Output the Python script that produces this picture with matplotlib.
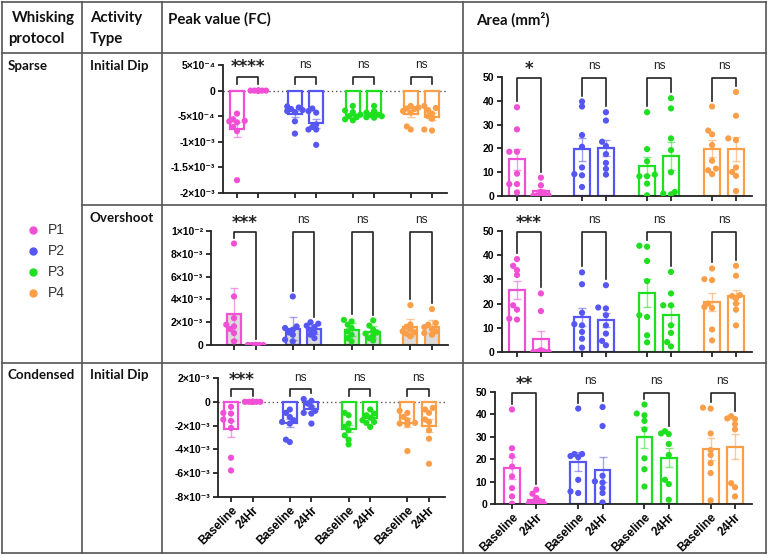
import numpy as np
import matplotlib
matplotlib.use('Agg')
import matplotlib.pyplot as plt
from matplotlib.lines import Line2D

W, H = 768, 556

groups = ['P1', 'P2', 'P3', 'P4']
conditions = ['Baseline', '24Hr']
colors = ['#f04fd6', '#5656f2', '#1fe01f', '#fa9e48']

# Sparse / Initial Dip / Peak value (x1e-4)
sp_dip_peak_base = [[-4.5, -5.6, -5.9, -6.2, -7.1, -7.9, -6.0, -17.5],
                    [-3.1, -3.3, -3.6, -3.8, -4.0, -4.2, -6.0, -8.4],
                    [-3.0, -3.9, -4.2, -4.7, -5.0, -5.2, -5.6, -5.8],
                    [-3.0, -3.3, -3.5, -3.6, -4.0, -4.3, -7.0, -7.6]]
sp_dip_peak_24h = [[0, 0, 0, 0, 0, 0, 0, 0],
                   [-3.5, -4.3, -4.0, -6.6, -7.1, -7.6, -7.6, -10.6],
                   [-3.0, -4.0, -4.3, -4.7, -4.8, -5.0, -5.2, -5.3],
                   [-3.0, -3.4, -3.8, -4.5, -5.0, -5.5, -7.6, -7.8]]
sp_dip_peak_sig = ['****', 'ns', 'ns', 'ns']

# Sparse / Initial Dip / Area
sp_dip_area_base = [[37.3, 28.0, 18.6, 18.6, 9.4, 5.0, 5.0, 1.5],
                    [39.7, 37.6, 25.6, 20.7, 12.0, 9.2, 8.7, 3.8],
                    [35.2, 19.7, 14.6, 9.0, 8.3, 8.3, 5.2, 0.3],
                    [37.6, 27.5, 25.9, 21.4, 14.8, 11.5, 10.8, 9.2]]
sp_dip_area_24h = [[7.7, 4.5, 1.7, 0.8, 0.3, 0.2, 0.0, 0.0],
                   [35.2, 31.7, 22.8, 21.0, 17.6, 13.9, 11.4, 9.0],
                   [41.1, 36.8, 24.2, 19.3, 10.0, 1.7, 1.0, 0.7],
                   [43.7, 33.7, 24.2, 23.5, 12.0, 10.1, 8.5, 2.1]]
sp_dip_area_sig = ['*', 'ns', 'ns', 'ns']

# Sparse / Overshoot / Peak value (x1e-3)
sp_over_peak_base = [[8.9, 4.26, 2.36, 1.78, 1.63, 1.4, 1.05, 0.32],
                     [4.26, 1.63, 1.49, 1.34, 1.1, 0.9, 0.47, 0.32],
                     [2.2, 2.07, 1.78, 1.49, 1.2, 0.9, 0.6, 0.32],
                     [3.5, 1.8, 1.6, 1.4, 1.2, 1.1, 1.0, 0.76]]
sp_over_peak_24h = [[0, 0, 0, 0, 0, 0, 0, 0],
                    [2.0, 1.87, 1.7, 1.57, 1.34, 1.1, 0.9, 0.6],
                    [2.16, 1.7, 1.34, 1.1, 1.0, 0.82, 0.6, 0.4],
                    [3.15, 1.92, 1.78, 1.57, 1.4, 1.2, 1.05, 0.9]]
sp_over_peak_sig = ['***', 'ns', 'ns', 'ns']

# Sparse / Overshoot / Area
sp_over_area_base = [[38.4, 35.6, 33.8, 31.8, 19.3, 17.5, 13.8, 13.4],
                     [32.9, 28.0, 16.2, 11.5, 11.0, 8.3, 5.5, 1.8],
                     [43.5, 43.9, 37.6, 29.3, 14.5, 15.2, 6.9, 4.0],
                     [34.5, 29.7, 30.1, 20.0, 18.6, 9.3, 4.8, 18.2]]
sp_over_area_24h = [[24.2, 16.9, 0.7, 0.0, 0.0, 0.0, 0.0, 0.0],
                    [27.6, 18.4, 18.0, 15.2, 11.0, 7.6, 4.6, 2.8],
                    [33.1, 24.2, 19.3, 19.3, 11.0, 7.9, 4.1, 2.3],
                    [35.6, 31.5, 23.5, 23.1, 20.0, 17.5, 11.0, 22.1]]
sp_over_area_sig = ['***', 'ns', 'ns', 'ns']

# Condensed / Initial Dip / Peak value (x1e-3)
cd_dip_peak_base = [[-0.42, -0.93, -0.99, -1.49, -1.6, -2.2, -4.7, -5.77],
                    [-0.65, -0.93, -1.27, -1.69, -1.83, -1.55, -3.18, -3.38],
                    [-0.93, -1.13, -1.83, -2.39, -2.82, -3.18, -3.58, -2.1],
                    [-0.76, -0.93, -1.27, -1.55, -1.77, -1.83, -1.92, -4.14]]
cd_dip_peak_24h = [[0, 0, 0, 0, 0, 0, 0, 0],
                   [0.23, 0.08, -0.14, -0.42, -0.76, -0.99, -0.93, -1.83],
                   [-0.65, -0.99, -1.13, -1.55, -1.69, -1.77, -2.11, -1.32],
                   [-0.51, -0.65, -0.93, -1.49, -1.69, -2.39, -3.1, -5.21]]
cd_dip_peak_sig = ['***', 'ns', 'ns', 'ns']

# Condensed / Initial Dip / Area
cd_dip_area_base = [[42.2, 24.9, 21.4, 16.7, 12.3, 7.1, 3.4, 0.1],
                    [42.6, 22.3, 22.3, 21.4, 20.9, 10.8, 5.6, 4.9],
                    [44.4, 40.4, 39.6, 37.1, 33.3, 20.4, 15.5, 7.8],
                    [42.6, 43.0, 31.5, 21.9, 18.2, 13.8, 1.6, 24.1]]
cd_dip_area_24h = [[6.4, 4.6, 2.7, 1.2, 0.4, 0.1, 0.1, 0.1],
                   [43.3, 34.8, 12.6, 10.1, 9.6, 7.1, 4.9, 0.7],
                   [32.5, 31.2, 31.5, 26.8, 21.9, 10.8, 8.9, 1.9],
                   [39.2, 38.2, 37.9, 35.6, 33.3, 9.3, 7.5, 3.4]]
cd_dip_area_sig = ['**', 'ns', 'ns', 'ns']

GAP = 2.72
FONT_TICK = ['Liberation Sans', 'DejaVu Sans']


def fx(x):
    return x / W


def fy(y):
    return 1 - y / H


def swarm_offsets(vals, unit_px, px_per_val, diam=5.5):
    # small deterministic beeswarm, kept inside the bar
    xs = np.zeros(len(vals))
    placed = []
    for i in np.argsort(vals):
        y = vals[i] * px_per_val
        best, best_d = 0.0, -1
        for k in [0, -1, 1, -2, 2]:
            x = k * diam * 0.7
            d = min([np.hypot(x - px, y - py) for px, py in placed] or [99])
            if d >= diam * 0.8:
                best = x
                break
            if d > best_d:
                best, best_d = x, d
        placed.append((best, y))
        xs[i] = best / unit_px
    return xs


def draw_panel(fig, spine_x, end_x, tick0, tickn, ytop, ybot, base, h24, sig,
               scale, ylim, yticks, ylabels, fill='white', err='sem',
               zero_line=False, xlabels=False):
    unit = (tickn - tick0) / (3 * GAP + 1)
    ax = fig.add_axes([fx(spine_x), fy(ybot), (end_x - spine_x) / W, (ybot - ytop) / H])
    ax.set_xlim(-(tick0 - spine_x) / unit, (end_x - tick0) / unit)
    ax.set_ylim(*ylim)
    px_per_val = (ybot - ytop) / (ylim[1] - ylim[0])
    rng = ylim[1] - ylim[0]
    pos = []
    for g in range(4):
        tops = []
        for c, data in enumerate([base, h24]):
            v = np.array(data[g], float) * scale
            x = g * GAP + c
            pos.append(x)
            m = v.mean()
            e = v.std(ddof=1) / np.sqrt(len(v))
            if err == 'ci':
                e *= 2.365
            ax.bar(x, m, width=0.65, color=fill, edgecolor=colors[g], lw=1.6, zorder=2)
            ax.errorbar(x, m, yerr=e, color=colors[g], alpha=0.55, lw=1.0,
                        capsize=3, capthick=1.0, zorder=3)
            xo = swarm_offsets(v, unit, px_per_val)
            ax.scatter(x + xo, v, s=20, color=colors[g], edgecolors='none', zorder=4)
            tops.append(max(v.max(), 0, m + e) + 0.05 * rng)
        yb = ylim[1] - 0.005 * rng if ylim[1] > 0.5 * rng else ylim[1] - 0.09 * rng
        x0, x1 = g * GAP, g * GAP + 1
        ax.plot([x0, x0, x1, x1], [min(tops[0], yb - 0.04 * rng), yb, yb,
                                   min(tops[1], yb - 0.04 * rng)],
                color='#222222', lw=1.2, clip_on=False, zorder=5)
        if '*' in sig[g]:
            ax.annotate(sig[g], ((x0 + x1) / 2, yb), xytext=(0, 6.5),
                        textcoords='offset points', ha='center', va='center',
                        fontsize=12, fontweight='bold', family='DejaVu Sans',
                        color='#222222', annotation_clip=False)
        else:
            ax.annotate(sig[g], ((x0 + x1) / 2, yb), xytext=(0, 8),
                        textcoords='offset points', ha='center', va='center',
                        fontsize=8.5, family=FONT_TICK, color='#222222',
                        annotation_clip=False)
    if zero_line:
        ax.axhline(0, color='#555555', ls=(0, (1, 2)), lw=1.0, zorder=1)
    for s in ['top', 'right']:
        ax.spines[s].set_visible(False)
    for s in ['left', 'bottom']:
        ax.spines[s].set_linewidth(1.3)
        ax.spines[s].set_color('#222222')
    ax.set_yticks(yticks)
    ax.set_yticklabels(ylabels, fontsize=7.5, fontweight='bold', family=FONT_TICK)
    ax.set_xticks(pos)
    if xlabels:
        ax.set_xticklabels(conditions * 4, rotation=45, ha='right',
                           rotation_mode='anchor', fontsize=8.5, fontweight='bold',
                           family=FONT_TICK)
    else:
        ax.set_xticklabels([])
    ax.tick_params(length=3.5, width=1.3, color='#222222', pad=2)
    ax.patch.set_alpha(0)
    return ax


fig = plt.figure(figsize=(W / 100, H / 100), dpi=100)

# table lines
lc = '#555555'
for x0, y0, x1, y1 in [(2, 2, 766, 2), (2, 53, 766, 53), (82, 205, 766, 205),
                       (2, 363, 766, 363), (2, 553, 766, 553),
                       (2, 2, 2, 553), (82, 2, 82, 553), (162, 2, 162, 553),
                       (463, 2, 463, 553), (766, 2, 766, 553)]:
    fig.add_artist(Line2D([fx(x0), fx(x1)], [fy(y0), fy(y1)], color=lc, lw=1.2))

hdr = dict(fontsize=10.8, fontweight='bold', family=['Lato', 'DejaVu Sans'],
           va='center', ha='left', color='#111111')
body = dict(hdr, fontsize=9.6)
fig.text(fx(12), fy(18), 'Whisking', **hdr)
fig.text(fx(8), fy(39), 'protocol', **hdr)
fig.text(fx(90), fy(18), 'Activity', **hdr)
fig.text(fx(90), fy(39), 'Type', **hdr)
fig.text(fx(168), fy(19), 'Peak value (FC)', **hdr)
fig.text(fx(476), fy(20), 'Area (mm²)', **hdr)
fig.text(fx(8), fy(66), 'Sparse', **body)
fig.text(fx(90), fy(66), 'Initial Dip', **body)
fig.text(fx(90), fy(218), 'Overshoot', **body)
fig.text(fx(8), fy(375), 'Condensed', **body)
fig.text(fx(90), fy(375), 'Initial Dip', **body)

# legend
for i, (name, col) in enumerate(zip(groups, colors)):
    y = 230 + 21 * i
    fig.add_artist(Line2D([fx(33)], [fy(y)], marker='o', ms=5, color=col, lw=0))
    fig.text(fx(48), fy(y), name, fontsize=10, family=FONT_TICK, va='center',
             ha='left', color='#333333')

draw_panel(fig, 223, 447, 237, 432, 65, 193, sp_dip_peak_base, sp_dip_peak_24h,
           sp_dip_peak_sig, 1e-4, (-2e-3, 5e-4),
           [-2e-3, -1.5e-3, -1e-3, -5e-4, 0, 5e-4],
           ['-2×10⁻³', '-1.5×10⁻³', '-1×10⁻³', '-5×10⁻⁴', '0', '5×10⁻⁴'],
           zero_line=True)
draw_panel(fig, 502, 752, 517, 736, 77, 196, sp_dip_area_base, sp_dip_area_24h,
           sp_dip_area_sig, 1, (0, 50), [0, 10, 20, 30, 40, 50],
           ['0', '10', '20', '30', '40', '50'])
draw_panel(fig, 211, 448, 234, 432, 231, 345, sp_over_peak_base, sp_over_peak_24h,
           sp_over_peak_sig, 1e-3, (0, 1e-2), [0, 2e-3, 4e-3, 6e-3, 8e-3, 1e-2],
           ['0', '2×10⁻³', '4×10⁻³', '6×10⁻³', '8×10⁻³', '1×10⁻²'],
           fill='#dcdcdc', err='ci')
draw_panel(fig, 502, 752, 517, 736, 231, 352, sp_over_area_base, sp_over_area_24h,
           sp_over_area_sig, 1, (0, 50), [0, 10, 20, 30, 40, 50],
           ['0', '10', '20', '30', '40', '50'])
draw_panel(fig, 218, 445, 231, 429, 378, 497, cd_dip_peak_base, cd_dip_peak_24h,
           cd_dip_peak_sig, 1e-3, (-8e-3, 2e-3), [-8e-3, -6e-3, -4e-3, -2e-3, 0, 2e-3],
           ['-8×10⁻³', '-6×10⁻³', '-4×10⁻³', '-2×10⁻³', '0', '2×10⁻³'],
           zero_line=True, xlabels=True)
draw_panel(fig, 495, 752, 512, 735, 392, 504, cd_dip_area_base, cd_dip_area_24h,
           cd_dip_area_sig, 1, (0, 50), [0, 10, 20, 30, 40, 50],
           ['0', '10', '20', '30', '40', '50'], xlabels=True)

fig.savefig('out.png', dpi=100)
